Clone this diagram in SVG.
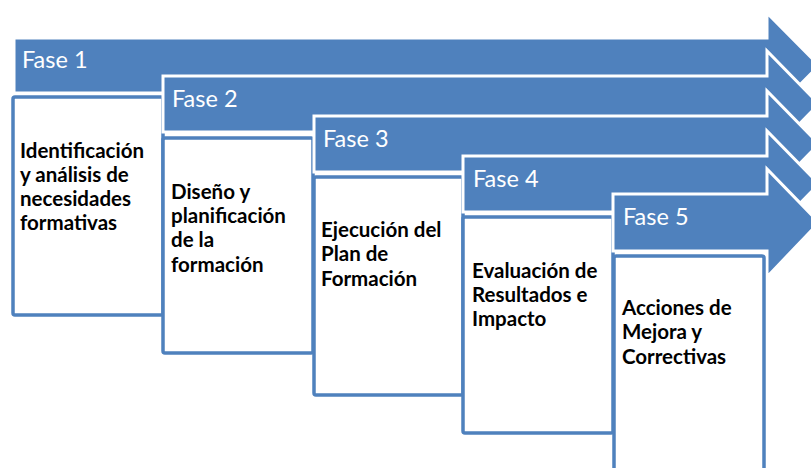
<svg xmlns="http://www.w3.org/2000/svg" width="811" height="468" viewBox="0 0 811 468">
<style>
.arrow{fill:#4F81BD;stroke:#FFFFFF;stroke-width:3;stroke-linejoin:miter}
.box{fill:#FFFFFF;stroke:#4F81BD;stroke-width:3.5}
.fase{font-family:Lato,"Open Sans",sans-serif;font-size:23.5px;fill:#FFFFFF}
.body{font-family:Lato,"Open Sans",sans-serif;font-size:20.5px;font-weight:700;fill:#000000}
</style>
<rect width="811" height="468" fill="#FFFFFF"/>
<g id="fase1">
<path class="arrow" d="M14,38 H767 V13 L819,65.5 L767,118 V93 H14 Z"/>
<rect class="box" x="13" y="97" width="150" height="218" rx="2"/>
<text class="fase" x="22" y="68">Fase 1</text>
<text class="body"><tspan x="20" y="158">Identificación</tspan><tspan x="20" y="182">y análisis de</tspan><tspan x="20" y="206">necesidades</tspan><tspan x="20" y="230">formativas</tspan></text>
</g>
<g id="fase2">
<path class="arrow" d="M163,76 H767 V51 L819,104 L767,157 V132 H163 Z"/>
<rect class="box" x="163" y="138" width="150" height="215" rx="2"/>
<text class="fase" x="172" y="107">Fase 2</text>
<text class="body"><tspan x="171" y="199">Diseño y</tspan><tspan x="171" y="223">planificación</tspan><tspan x="171" y="247">de la</tspan><tspan x="171" y="272">formación</tspan></text>
</g>
<g id="fase3">
<path class="arrow" d="M314,116 H767 V91 L819,144 L767,197 V172 H314 Z"/>
<rect class="box" x="314" y="177" width="149" height="218" rx="2"/>
<text class="fase" x="323" y="147">Fase 3</text>
<text class="body"><tspan x="321" y="237">Ejecución del</tspan><tspan x="321" y="261">Plan de</tspan><tspan x="321" y="286">Formación</tspan></text>
</g>
<g id="fase4">
<path class="arrow" d="M463,156 H767 V131 L819,184 L767,237 V212 H463 Z"/>
<rect class="box" x="463" y="217" width="150" height="216" rx="2"/>
<text class="fase" x="473" y="187">Fase 4</text>
<text class="body"><tspan x="472" y="278">Evaluación de</tspan><tspan x="472" y="302">Resultados e</tspan><tspan x="472" y="326">Impacto</tspan></text>
</g>
<g id="fase5">
<path class="arrow" d="M613,194 H767 V169 L819,222.5 L767,277 V251 H613 Z"/>
<rect class="box" x="614" y="256" width="150" height="218" rx="2"/>
<text class="fase" x="623" y="225">Fase 5</text>
<text class="body"><tspan x="622" y="315">Acciones de</tspan><tspan x="622" y="339">Mejora y</tspan><tspan x="622" y="364">Correctivas</tspan></text>
</g>
</svg>
